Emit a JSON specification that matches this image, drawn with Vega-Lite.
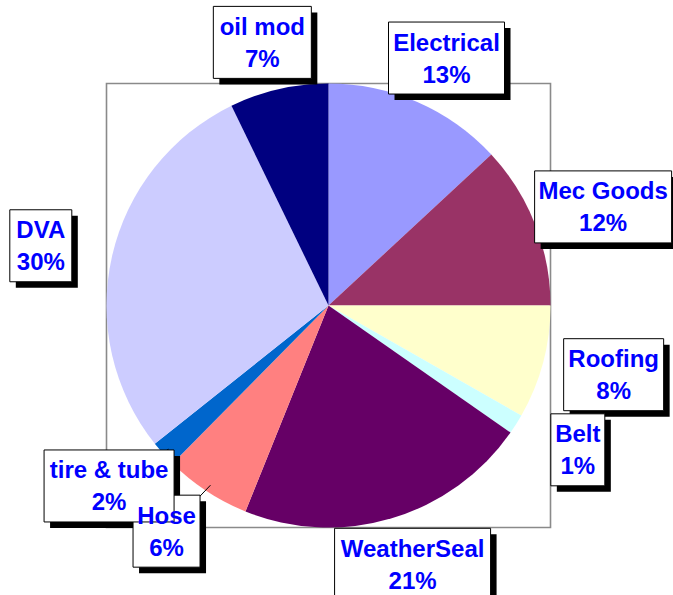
{
  "$schema": "https://vega.github.io/schema/vega-lite/v6.json",
  "width": 657,
  "height": 579,
  "autosize": {"type": "none"},
  "padding": {"left": 0, "top": 16, "right": 16, "bottom": 0},
  "background": "white",
  "config": {"view": {"stroke": null}},
  "data": {
    "values": [
      {"label": "Electrical", "pct": "13%", "value": 13.1},
      {"label": "Mec Goods", "pct": "12%", "value": 11.9},
      {"label": "Roofing", "pct": "8%", "value": 8.25},
      {"label": "Belt", "pct": "1%", "value": 1.45},
      {"label": "WeatherSeal", "pct": "21%", "value": 21.4},
      {"label": "Hose", "pct": "6%", "value": 6.3},
      {"label": "tire & tube", "pct": "2%", "value": 1.9},
      {"label": "DVA", "pct": "30%", "value": 28.5},
      {"label": "oil mod", "pct": "7%", "value": 7.2}
    ]
  },
  "transform": [
    {"window": [{"op": "sum", "field": "value", "as": "cum"}, {"op": "row_number", "as": "idx"}]},
    {"joinaggregate": [{"op": "sum", "field": "value", "as": "total"}]},
    {"calculate": "2*PI*(datum.cum - datum.value/2)/datum.total", "as": "mid"},
    {"calculate": "295*sin(datum.mid)", "as": "lx"},
    {"calculate": "270*cos(datum.mid)", "as": "ly"},
    {"calculate": "215*sin(datum.mid)", "as": "ex"},
    {"calculate": "215*cos(datum.mid)", "as": "ey"}
  ],
  "resolve": {"scale": {"shape": "independent", "color": "independent"}},
  "layer": [
    {
      "transform": [{"filter": "datum.idx == 1"}],
      "mark": {"type": "point", "shape": "square", "size": 197136, "filled": false, "stroke": "#8a8a8a", "strokeWidth": 1.6, "opacity": 1},
      "encoding": {
        "x": {"datum": 0, "type": "quantitative", "scale": {"domain": [-328.5, 328.5], "nice": false, "zero": false}, "axis": null},
        "y": {"datum": 0, "type": "quantitative", "scale": {"domain": [-289.5, 289.5], "nice": false, "zero": false}, "axis": null}
      }
    },
    {
      "mark": {"type": "arc", "outerRadius": 222},
      "encoding": {
        "theta": {"field": "value", "type": "quantitative", "stack": true},
        "order": {"field": "idx", "type": "quantitative"},
        "color": {
          "field": "label",
          "type": "nominal",
          "legend": null,
          "scale": {
            "domain": ["Electrical", "Mec Goods", "Roofing", "Belt", "WeatherSeal", "Hose", "tire & tube", "DVA", "oil mod"],
            "range": ["#9999FF", "#993366", "#FFFFCC", "#CCFFFF", "#660066", "#FF8080", "#0066CC", "#CCCCFF", "#000080"]
          }
        }
      }
    },
    {
      "transform": [{"filter": "datum.label == 'Hose' || datum.label == 'tire & tube'"}],
      "mark": {"type": "rule", "color": "black", "strokeWidth": 1},
      "encoding": {
        "x": {"field": "lx", "type": "quantitative", "scale": {"domain": [-328.5, 328.5], "nice": false, "zero": false}, "axis": null},
        "y": {"field": "ly", "type": "quantitative", "scale": {"domain": [-289.5, 289.5], "nice": false, "zero": false}, "axis": null},
        "x2": {"field": "ex"},
        "y2": {"field": "ey"}
      }
    },
    {
      "mark": {"type": "point", "filled": true, "fill": "black", "strokeWidth": 0, "size": 10000, "opacity": 1},
      "encoding": {
        "x": {"field": "lx", "type": "quantitative", "scale": {"domain": [-328.5, 328.5], "nice": false, "zero": false}, "axis": null},
        "y": {"field": "ly", "type": "quantitative", "scale": {"domain": [-289.5, 289.5], "nice": false, "zero": false}, "axis": null},
        "shape": {
          "field": "label",
          "type": "nominal",
          "legend": null,
          "scale": {
            "domain": ["Electrical", "Mec Goods", "Roofing", "Belt", "WeatherSeal", "Hose", "tire & tube", "DVA", "oil mod"],
            "range": [
              "M-1.04,-0.6H1.28V0.84H-1.04Z",
              "M-1.25,-0.6H1.49V0.84H-1.25Z",
              "M-0.88,-0.6H1.12V0.84H-0.88Z",
              "M-0.42,-0.6H0.66V0.84H-0.42Z",
              "M-1.44,-0.6H1.68V0.84H-1.44Z",
              "M-0.55,-0.6H0.79V0.84H-0.55Z",
              "M-1.18,-0.6H1.42V0.84H-1.18Z",
              "M-0.5,-0.6H0.74V0.84H-0.5Z",
              "M-0.86,-0.6H1.1V0.84H-0.86Z"
            ]
          }
        }
      }
    },
    {
      "mark": {"type": "point", "filled": true, "fill": "white", "stroke": "black", "strokeWidth": 1, "size": 10000, "opacity": 1},
      "encoding": {
        "x": {"field": "lx", "type": "quantitative", "scale": {"domain": [-328.5, 328.5], "nice": false, "zero": false}, "axis": null},
        "y": {"field": "ly", "type": "quantitative", "scale": {"domain": [-289.5, 289.5], "nice": false, "zero": false}, "axis": null},
        "shape": {
          "field": "label",
          "type": "nominal",
          "legend": null,
          "scale": {
            "domain": ["Electrical", "Mec Goods", "Roofing", "Belt", "WeatherSeal", "Hose", "tire & tube", "DVA", "oil mod"],
            "range": [
              "M-1.16,-0.72H1.16V0.72H-1.16Z",
              "M-1.37,-0.72H1.37V0.72H-1.37Z",
              "M-1,-0.72H1V0.72H-1Z",
              "M-0.54,-0.72H0.54V0.72H-0.54Z",
              "M-1.56,-0.72H1.56V0.72H-1.56Z",
              "M-0.67,-0.72H0.67V0.72H-0.67Z",
              "M-1.3,-0.72H1.3V0.72H-1.3Z",
              "M-0.62,-0.72H0.62V0.72H-0.62Z",
              "M-0.98,-0.72H0.98V0.72H-0.98Z"
            ]
          }
        }
      }
    },
    {
      "mark": {"type": "text", "font": "Liberation Sans", "fontWeight": "bold", "fontSize": 24, "color": "#0000FF", "align": "center", "baseline": "alphabetic", "dy": -7.5},
      "encoding": {
        "x": {"field": "lx", "type": "quantitative", "scale": {"domain": [-328.5, 328.5], "nice": false, "zero": false}, "axis": null},
        "y": {"field": "ly", "type": "quantitative", "scale": {"domain": [-289.5, 289.5], "nice": false, "zero": false}, "axis": null},
        "text": {"field": "label"}
      }
    },
    {
      "mark": {"type": "text", "font": "Liberation Sans", "fontWeight": "bold", "fontSize": 24, "color": "#0000FF", "align": "center", "baseline": "alphabetic", "dy": 24.5},
      "encoding": {
        "x": {"field": "lx", "type": "quantitative", "scale": {"domain": [-328.5, 328.5], "nice": false, "zero": false}, "axis": null},
        "y": {"field": "ly", "type": "quantitative", "scale": {"domain": [-289.5, 289.5], "nice": false, "zero": false}, "axis": null},
        "text": {"field": "pct"}
      }
    }
  ]
}
